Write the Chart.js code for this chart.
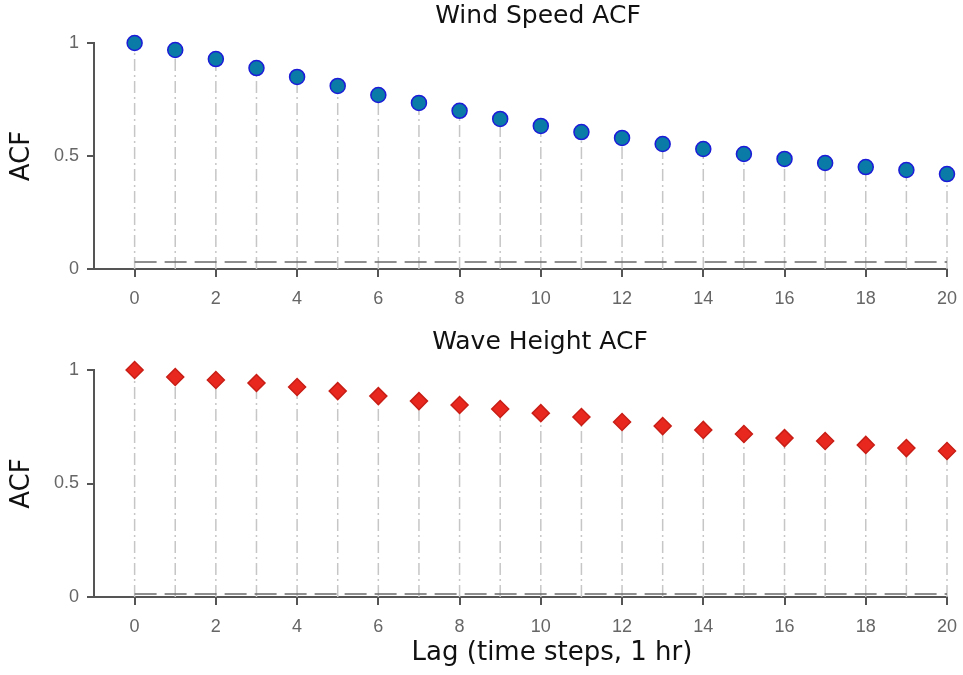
<!DOCTYPE html>
<html>
<head>
<meta charset="utf-8">
<script src="https://cdn.jsdelivr.net/npm/chart.js@4.4.1/dist/chart.umd.min.js"></script>
<style>
  body { margin: 0; background: #fff; }
  .panel { position: absolute; left: 0; width: 963px; }
</style>
</head>
<body>
<div class="panel" style="top:0;height:330px"><canvas id="top"></canvas></div>
<div class="panel" style="top:330px;height:345px"><canvas id="bottom"></canvas></div>
<script>
const lags = [0,1,2,3,4,5,6,7,8,9,10,11,12,13,14,15,16,17,18,19,20];
const windAcf = [1.0,0.969,0.929,0.889,0.85,0.81,0.77,0.735,0.70,0.664,0.633,0.606,0.58,0.553,0.531,0.509,0.487,0.469,0.451,0.438,0.42];
const waveAcf = [1.0,0.969,0.956,0.943,0.925,0.907,0.885,0.863,0.846,0.828,0.81,0.793,0.771,0.753,0.736,0.718,0.70,0.687,0.67,0.656,0.643];
const windBound = 0.031;
const waveBound = 0.013;
const xTicks = [0,2,4,6,8,10,12,14,16,18,20];
const yTicks = [0,0.5,1];

const axisColor = '#555555';
const tickFont = { family: 'Liberation Sans, Arial, sans-serif', size: 18 };
const labelFamily = 'DejaVu Sans, Verdana, sans-serif';

// titles drawn by hand so they can sit where the original has them
const panelText = {
    id: 'panelText',
    afterDraw(chart, args, opts) {
        const ctx = chart.ctx;
        ctx.save();
        ctx.fillStyle = '#111';
        ctx.textAlign = 'center';
        ctx.textBaseline = 'middle';
        opts.items.forEach(t => {
            ctx.font = t.size + 'px ' + labelFamily;
            ctx.fillText(t.text, t.x, t.y);
        });
        ctx.restore();
    },
};

function makeChart(id, values, bound, point, texts, xHeight) {
    // stems: one little line from 0 up to the value for every lag
    const stems = [];
    lags.forEach((lag, i) => {
        stems.push({ x: lag, y: 0 });
        stems.push({ x: lag, y: values[i] });
        stems.push({ x: lag, y: null });
    });

    const datasets = [
        {
            type: 'line',
            data: stems,
            borderColor: '#c6c6c6',
            borderWidth: 1.5,
            borderDash: [12, 4, 2, 4],
            pointRadius: 0,
            spanGaps: false,
            order: 3,
        },
        {
            type: 'line',
            data: [{ x: lags[0], y: bound }, { x: lags[lags.length - 1], y: bound }],
            borderColor: '#6a6a6a',
            borderWidth: 1.5,
            borderDash: [22, 8],
            pointRadius: 0,
            order: 2,
        },
        {
            type: 'scatter',
            data: lags.map((lag, i) => ({ x: lag, y: values[i] })),
            pointStyle: point.style,
            pointRadius: point.radius,
            backgroundColor: point.fill,
            borderColor: point.border,
            borderWidth: 1.5,
            order: 1,
        },
    ];

    return new Chart(document.getElementById(id), {
        type: 'scatter',
        data: { datasets: datasets },
        plugins: [panelText],
        options: {
            responsive: true,
            maintainAspectRatio: false,
            animation: false,
            clip: false,
            layout: { padding: { left: 0, right: 16, top: point.top, bottom: 0 } },
            plugins: {
                legend: { display: false },
                tooltip: { enabled: false },
                title: { display: false },
                panelText: { items: texts },
            },
            scales: {
                x: {
                    type: 'linear',
                    min: -1,
                    max: 20,
                    afterBuildTicks: scale => { scale.ticks = xTicks.map(v => ({ value: v })); },
                    afterFit: scale => {
                        scale.height = xHeight;
                        scale.paddingLeft = 0;
                        scale.paddingRight = 0;
                    },
                    ticks: { color: '#666', font: tickFont, padding: 11, autoSkip: false, maxRotation: 0 },
                    grid: { drawOnChartArea: false, tickLength: 8, color: axisColor, lineWidth: 2 },
                    border: { color: axisColor, width: 2 },
                },
                y: {
                    type: 'linear',
                    min: 0,
                    max: 1,
                    afterBuildTicks: scale => { scale.ticks = yTicks.map(v => ({ value: v })); },
                    afterFit: scale => { scale.width = 94; },
                    ticks: { color: '#666', font: tickFont, padding: 8, callback: v => String(v) },
                    grid: { drawOnChartArea: false, tickLength: 7, color: axisColor, lineWidth: 2 },
                    border: { color: axisColor, width: 2 },
                    title: {
                        display: true,
                        text: 'ACF',
                        color: '#111',
                        font: { family: labelFamily, size: 26 },
                        padding: { top: 7, bottom: 0 },
                    },
                },
            },
        },
    });
}

makeChart('top', windAcf, windBound,
    { style: 'circle', radius: 7.5, fill: '#0a7aa6', border: '#1c1cd8', top: 43 },
    [{ text: 'Wind Speed ACF', x: 538, y: 16, size: 25 }],
    61);
makeChart('bottom', waveAcf, waveBound,
    { style: 'rectRot', radius: 8.5, fill: '#e8281e', border: '#c81e16', top: 40 },
    [{ text: 'Wave Height ACF', x: 540, y: 12.5, size: 25 },
     { text: 'Lag (time steps, 1 hr)', x: 552, y: 323.5, size: 26 }],
    78);
</script>
</body>
</html>
